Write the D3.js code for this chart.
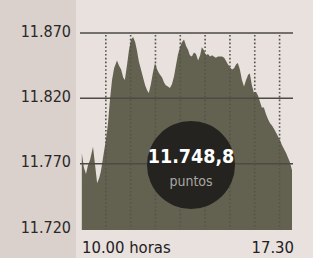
<!DOCTYPE html>
<html>
<head>
<meta charset="utf-8">
<script src="https://cdn.jsdelivr.net/npm/d3@7"></script>
<style>
    html, body { margin: 0; padding: 0; background: #e8e1dd; }
    svg { display: block; }
    text { font-family: "Liberation Sans Narrow", "DejaVu Sans Condensed", "DejaVu Sans", sans-serif; font-stretch: condensed; }
</style>
</head>
<body>
<svg id="chart"></svg>
<script>
// session times (Madrid) and index level
var times = ["09:02", "09:07", "09:12", "09:17", "09:22", "09:27", "09:29", "09:34", "09:39", "09:44",
    "09:48", "09:53", "10:00", "10:05", "10:10", "10:15", "10:20", "10:27", "10:32", "10:37",
    "10:42", "10:46", "10:51", "10:56", "11:01", "11:06", "11:11", "11:15", "11:20", "11:25",
    "11:30", "11:35", "11:40", "11:44", "11:49", "11:54", "11:59", "12:04", "12:09", "12:16",
    "12:21", "12:25", "12:30", "12:35", "12:40", "12:45", "12:50", "12:54", "12:59", "13:04",
    "13:09", "13:14", "13:19", "13:23", "13:28", "13:33", "13:38", "13:43", "13:48", "13:52",
    "13:57", "14:02", "14:07", "14:12", "14:17", "14:21", "14:26", "14:31", "14:36", "14:41",
    "14:46", "14:50", "14:55", "15:00", "15:05", "15:10", "15:15", "15:19", "15:24", "15:29",
    "15:34", "15:39", "15:44", "15:48", "15:53", "15:58", "16:03", "16:08", "16:13", "16:17",
    "16:22", "16:27", "16:32", "16:37", "16:42", "16:46", "16:51", "16:56", "17:01", "17:06",
    "17:11", "17:16", "17:20", "17:25", "17:30"];

var values = [11778, 11767, 11762, 11769, 11773, 11780, 11783, 11769, 11755, 11759,
    11764, 11774, 11788, 11800, 11819, 11834, 11843, 11849, 11845, 11842,
    11836, 11834, 11845, 11857, 11865, 11867, 11863, 11857, 11848, 11842,
    11836, 11830, 11826, 11824, 11831, 11840, 11847, 11842, 11839, 11836,
    11832, 11830, 11829, 11828, 11831, 11837, 11846, 11853, 11859, 11863,
    11865, 11860, 11857, 11853, 11852, 11855, 11854, 11849, 11853, 11859,
    11857, 11853, 11854, 11852, 11853, 11852, 11851, 11852, 11852, 11852,
    11851, 11849, 11846, 11844, 11842, 11843, 11846, 11847, 11842, 11834,
    11829, 11834, 11838, 11839, 11830, 11824, 11825, 11822, 11817, 11813,
    11813, 11808, 11804, 11801, 11799, 11797, 11794, 11791, 11788, 11784,
    11781, 11778, 11775, 11771, 11765];

var yTicks = [11720, 11770, 11820, 11870];
var hourLines = ["10:00", "11:00", "12:00", "13:00", "14:00", "15:00", "16:00", "17:00"];
var xLabels = ["10.00 horas", "17.30"];
var closeValue = "11.748,8";
var closeUnit = "puntos";

var width = 313,
    height = 258;

var parseTime = d3.timeParse("%H:%M");
var data = times.map(function (t, i) {
    return { date: parseTime(t), value: values[i] };
});

var svg = d3.select("#chart")
    .attr("width", width)
    .attr("height", height);

// darker paper on the left side
svg.append("rect")
    .attr("x", 0)
    .attr("y", 0)
    .attr("width", 76)
    .attr("height", height)
    .attr("fill", "#dad1cd");

var x = d3.scaleTime()
    .domain([parseTime("09:00"), parseTime("17:30")])
    .range([81, 292]);

var y = d3.scaleLinear()
    .domain([11720, 11870])
    .range([229, 33]);

var es = d3.formatLocale({ decimal: ",", thousands: ".", grouping: [3], currency: ["", "€"] });
var fmt = es.format(",d");

var area = d3.area()
    .x(function (d) { return x(d.date); })
    .y0(y(11720) + 1)
    .y1(function (d) { return y(d.value); });

svg.append("path")
    .datum(data)
    .attr("d", area)
    .attr("fill", "#636250");

// horizontal grid
svg.append("g")
    .selectAll("line")
    .data(yTicks.slice(1))
    .enter().append("line")
    .attr("x1", 80)
    .attr("x2", 293)
    .attr("y1", function (d) { return y(d); })
    .attr("y2", function (d) { return y(d); })
    .attr("stroke", "#4d4a44")
    .attr("stroke-width", 1.5);

// dotted hour lines
svg.append("g")
    .selectAll("line")
    .data(hourLines)
    .enter().append("line")
    .attr("x1", function (d) { return x(parseTime(d)); })
    .attr("x2", function (d) { return x(parseTime(d)); })
    .attr("y1", y(11870) + 2)
    .attr("y2", y(11720))
    .attr("stroke", "#55534a")
    .attr("stroke-width", 1.6)
    .attr("stroke-dasharray", "1.6,2.2");

var yAxis = svg.append("g")
    .attr("transform", "translate(80,0)")
    .call(d3.axisLeft(y).tickValues(yTicks).tickFormat(fmt).tickSize(0).tickPadding(9));

yAxis.select(".domain").remove();
yAxis.selectAll("text")
    .attr("dy", "0.2em")
    .attr("fill", "#2a2826")
    .style("font-size", "16px");

svg.append("g")
    .selectAll("text")
    .data(xLabels)
    .enter().append("text")
    .attr("x", function (d, i) { return i === 0 ? x.range()[0] + 1 : x.range()[1] + 2; })
    .attr("y", 253)
    .attr("text-anchor", function (d, i) { return i === 0 ? "start" : "end"; })
    .attr("fill", "#22201e")
    .style("font-size", "16.5px")
    .text(function (d) { return d; });

// closing level badge
var badge = svg.append("g")
    .attr("transform", "translate(191,165)");

badge.append("circle")
    .attr("r", 44)
    .attr("fill", "#24231f");

badge.append("text")
    .attr("y", -2)
    .attr("text-anchor", "middle")
    .attr("fill", "#ffffff")
    .style("font-size", "19.5px")
    .style("font-weight", "bold")
    .text(closeValue);

badge.append("text")
    .attr("y", 21)
    .attr("text-anchor", "middle")
    .attr("fill", "#a9a7a2")
    .style("font-size", "14px")
    .text(closeUnit);
</script>
</body>
</html>
